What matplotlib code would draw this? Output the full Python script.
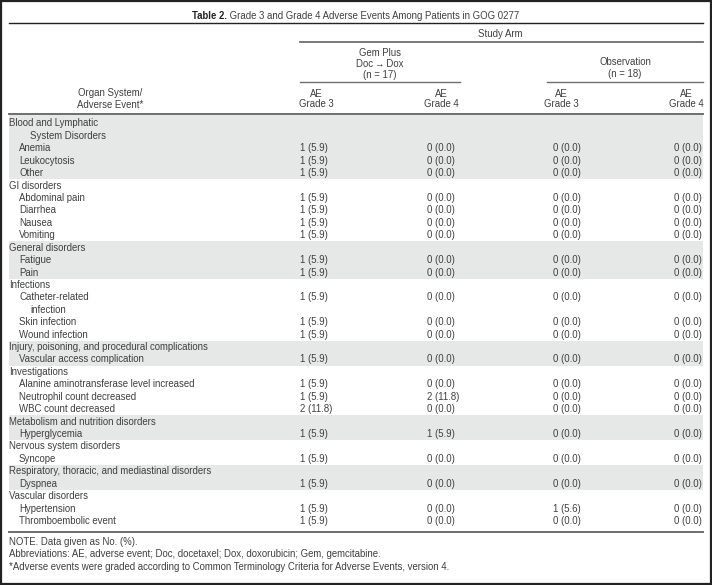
import matplotlib.pyplot as plt
from matplotlib.patches import Rectangle

plt.rcParams['font.family'] = ['Liberation Sans', 'DejaVu Sans']

title_bold = "Table 2."
title_rest = "Grade 3 and Grade 4 Adverse Events Among Patients in GOG 0277"

sections = [
    "Blood and Lymphatic\nSystem Disorders",
    "GI disorders",
    "General disorders",
    "Infections",
    "Injury, poisoning, and procedural complications",
    "Investigations",
    "Metabolism and nutrition disorders",
    "Nervous system disorders",
    "Respiratory, thoracic, and mediastinal disorders",
    "Vascular disorders",
]

events = [
    ["Anemia", "Leukocytosis", "Other"],
    ["Abdominal pain", "Diarrhea", "Nausea", "Vomiting"],
    ["Fatigue", "Pain"],
    ["Catheter-related\ninfection", "Skin infection", "Wound infection"],
    ["Vascular access complication"],
    ["Alanine aminotransferase level increased", "Neutrophil count decreased",
     "WBC count decreased"],
    ["Hyperglycemia"],
    ["Syncope"],
    ["Dyspnea"],
    ["Hypertension", "Thromboembolic event"],
]

# one entry per adverse event, in the order above
gem_g3 = ["1 (5.9)", "1 (5.9)", "1 (5.9)",
          "1 (5.9)", "1 (5.9)", "1 (5.9)", "1 (5.9)",
          "1 (5.9)", "1 (5.9)",
          "1 (5.9)", "1 (5.9)", "1 (5.9)",
          "1 (5.9)",
          "1 (5.9)", "1 (5.9)", "2 (11.8)",
          "1 (5.9)",
          "1 (5.9)",
          "1 (5.9)",
          "1 (5.9)", "1 (5.9)"]
gem_g4 = ["0 (0.0)", "0 (0.0)", "0 (0.0)",
          "0 (0.0)", "0 (0.0)", "0 (0.0)", "0 (0.0)",
          "0 (0.0)", "0 (0.0)",
          "0 (0.0)", "0 (0.0)", "0 (0.0)",
          "0 (0.0)",
          "0 (0.0)", "2 (11.8)", "0 (0.0)",
          "1 (5.9)",
          "0 (0.0)",
          "0 (0.0)",
          "0 (0.0)", "0 (0.0)"]
obs_g3 = ["0 (0.0)", "0 (0.0)", "0 (0.0)",
          "0 (0.0)", "0 (0.0)", "0 (0.0)", "0 (0.0)",
          "0 (0.0)", "0 (0.0)",
          "0 (0.0)", "0 (0.0)", "0 (0.0)",
          "0 (0.0)",
          "0 (0.0)", "0 (0.0)", "0 (0.0)",
          "0 (0.0)",
          "0 (0.0)",
          "0 (0.0)",
          "1 (5.6)", "0 (0.0)"]
obs_g4 = ["0 (0.0)"] * 21

arm_names = ["Gem Plus\nDoc\u2009\u2192\u2009Dox\n(n = 17)", "Observation\n(n = 18)"]
col_header = "AE\nGrade {}"
footnotes = [
    "NOTE. Data given as No. (%).",
    "Abbreviations: AE, adverse event; Doc, docetaxel; Dox, doxorubicin; Gem, gemcitabine.",
    "*Adverse events were graded according to Common Terminology Criteria for Adverse Events, version 4.",
]

W, H = 712, 585
fs = 6.9
tc = '#3f3f3f'
rule = '#6e6e6e'
band = '#e6e7e7'

fig = plt.figure(figsize=(W / 100, H / 100), dpi=100)
ax = fig.add_axes([0, 0, 1, 1])
ax.set_xlim(0, W)
ax.set_ylim(H, 0)
ax.axis('off')

# frame
ax.add_patch(Rectangle((1, 1), W - 2, H - 2, fill=False, ec='#222222', lw=1.6))

# title, bold label followed by regular text, centered as one line
renderer = fig.canvas.get_renderer()
t1 = ax.text(0, 16, title_bold, fontsize=fs, fontweight='bold', color='#222222', va='center')
t2 = ax.text(0, 16, " " + title_rest, fontsize=fs, color=tc, va='center')
w1 = t1.get_window_extent(renderer).width
w2 = t2.get_window_extent(renderer).width
x0 = W / 2 - (w1 + w2) / 2
t1.set_x(x0)
t2.set_x(x0 + w1)

ax.plot([9, 703], [23, 23], color='#222222', lw=1.0)

# header
ax.text(500, 34, "Study Arm", fontsize=fs, color=tc, ha='center', va='center')
ax.plot([300, 703], [42, 42], color=rule, lw=1.3)
ax.text(380, 64, arm_names[0], fontsize=fs, color=tc, ha='center', va='center',
        linespacing=1.18, multialignment='center')
ax.text(625, 68, arm_names[1], fontsize=fs, color=tc, ha='center', va='center',
        linespacing=1.18, multialignment='center')
ax.plot([300, 460], [82, 82], color=rule, lw=1.0)
ax.plot([547, 703], [82, 82], color=rule, lw=1.0)

ax.text(110, 99, "Organ System/\nAdverse Event*", fontsize=fs, color=tc, ha='center',
        va='center', linespacing=1.15, multialignment='center')
hdr_x = [316, 441, 561, 686]
for x, g in zip(hdr_x, [3, 4, 3, 4]):
    ax.text(x, 99, col_header.format(g), fontsize=fs, color=tc, ha='center', va='center',
            linespacing=1.1, multialignment='center')
ax.plot([9, 703], [114, 114], color=rule, lw=1.4)

# body
y0, dy = 123.5, 12.42
cols = [(gem_g3, 300, 'left'), (gem_g4, 427, 'left'), (obs_g3, 553, 'left'), (obs_g4, 702, 'right')]
line = 0
ev = 0
for k, sec in enumerate(sections):
    start = line
    parts = sec.split("\n")
    ax.text(9, y0 + line * dy, parts[0], fontsize=fs, color=tc, va='center')
    for p in parts[1:]:
        line += 1
        ax.text(30, y0 + line * dy, p, fontsize=fs, color=tc, va='center')
    line += 1
    for name in events[k]:
        y = y0 + line * dy
        parts = name.split("\n")
        ax.text(19, y, parts[0], fontsize=fs, color=tc, va='center')
        for vals, x, ha in cols:
            ax.text(x, y, vals[ev], fontsize=fs, color=tc, va='center', ha=ha)
        for p in parts[1:]:
            line += 1
            ax.text(30, y0 + line * dy, p, fontsize=fs, color=tc, va='center')
        line += 1
        ev += 1
    if k % 2 == 0:
        top = y0 + start * dy - dy / 2
        if k == 0:
            top = 115
        bot = y0 + (line - 1) * dy + dy / 2
        ax.add_patch(Rectangle((9, top), 694, bot - top, color=band, zorder=0, lw=0))

ax.plot([9, 703], [532, 532], color=rule, lw=1.4)

for i, note in enumerate(footnotes):
    ax.text(9, 542 + i * 12.3, note, fontsize=fs, color=tc, va='center')

fig.savefig('out.png', dpi=100)
